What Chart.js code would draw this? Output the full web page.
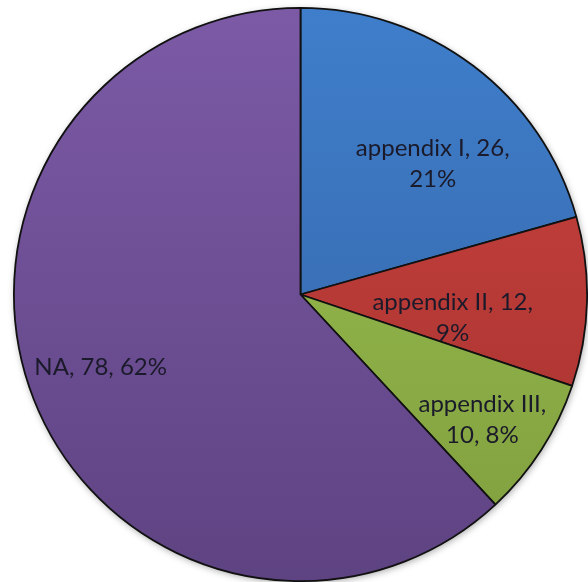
<!DOCTYPE html>
<html>
<head>
<meta charset="utf-8">
<script src="https://cdn.jsdelivr.net/npm/chart.js@4/dist/chart.umd.min.js"></script>
<style>
  html, body { margin: 0; padding: 0; background: #fff; }
  #wrap { width: 588px; height: 582px; }
</style>
</head>
<body>
<div id="wrap"><canvas id="pie-chart" width="588" height="582"></canvas></div>
<script>
const categories = ['appendix I', 'appendix II', 'appendix III', 'NA'];
const counts = [26, 12, 10, 78];
const percents = ['21%', '9%', '8%', '62%'];

// label lines as Excel wrapped them
const labelLines = [
    ['appendix I, 26,', '21%'],
    ['appendix II, 12,', '9%'],
    ['appendix III,', '10, 8%'],
    ['NA, 78, 62%']
];
// where each label sits: angle (deg, 0 = right, clockwise) and distance as part of radius
const labelPlace = [[-44.6, 0.648], [8.6, 0.537], [34.5, 0.77], [160, 0.742]];

const topColors = ['#3f7ecb', '#cb423e', '#9dc451', '#7c5aa6'];
const bottomColors = ['#3463a3', '#a4322f', '#7f9d3e', '#5e4382'];

function sliceFill(context) {
    const chart = context.chart;
    const area = chart.chartArea;
    if (!area) return topColors[context.dataIndex];
    const g = chart.ctx.createLinearGradient(0, area.top, 0, area.bottom);
    g.addColorStop(0, topColors[context.dataIndex]);
    g.addColorStop(1, bottomColors[context.dataIndex]);
    return g;
}

const shadowPlugin = {
    id: 'pieShadow',
    beforeDatasetsDraw(chart) {
        const arc = chart.getDatasetMeta(0).data[0];
        if (!arc) return;
        const ctx = chart.ctx;
        ctx.save();
        ctx.shadowColor = 'rgba(0,0,0,0.35)';
        ctx.shadowBlur = 7;
        ctx.shadowOffsetX = 1;
        ctx.shadowOffsetY = 2;
        ctx.fillStyle = '#fff';
        ctx.beginPath();
        ctx.arc(arc.x, arc.y, arc.outerRadius, 0, Math.PI * 2);
        ctx.fill();
        ctx.restore();
    }
};

const labelPlugin = {
    id: 'sliceLabels',
    afterDatasetsDraw(chart) {
        const ctx = chart.ctx;
        const arcs = chart.getDatasetMeta(0).data;
        ctx.save();
        ctx.font = '24px Lato, "Liberation Sans", sans-serif';
        ctx.fillStyle = '#1b1a2a';
        ctx.textAlign = 'center';
        ctx.textBaseline = 'middle';
        arcs.forEach((arc, i) => {
            const a = labelPlace[i][0] * Math.PI / 180;
            const r = arc.outerRadius * labelPlace[i][1];
            const cx = arc.x + Math.cos(a) * r;
            const cy = arc.y + Math.sin(a) * r;
            const lines = labelLines[i];
            const lh = 31;
            lines.forEach((line, j) => {
                ctx.fillText(line, cx, cy + (j - (lines.length - 1) / 2) * lh);
            });
        });
        ctx.restore();
    }
};

const ctx = document.getElementById('pie-chart').getContext('2d');
new Chart(ctx, {
    type: 'pie',
    data: {
        labels: categories,
        datasets: [{
            data: counts,
            backgroundColor: sliceFill,
            borderColor: '#111',
            borderWidth: 1.8
        }]
    },
    options: {
        responsive: false,
        animation: false,
        layout: { padding: { left: 13, right: 0, top: 7, bottom: 0 } },
        plugins: {
            legend: { display: false },
            tooltip: { enabled: false }
        }
    },
    plugins: [shadowPlugin, labelPlugin]
});
</script>
</body>
</html>
